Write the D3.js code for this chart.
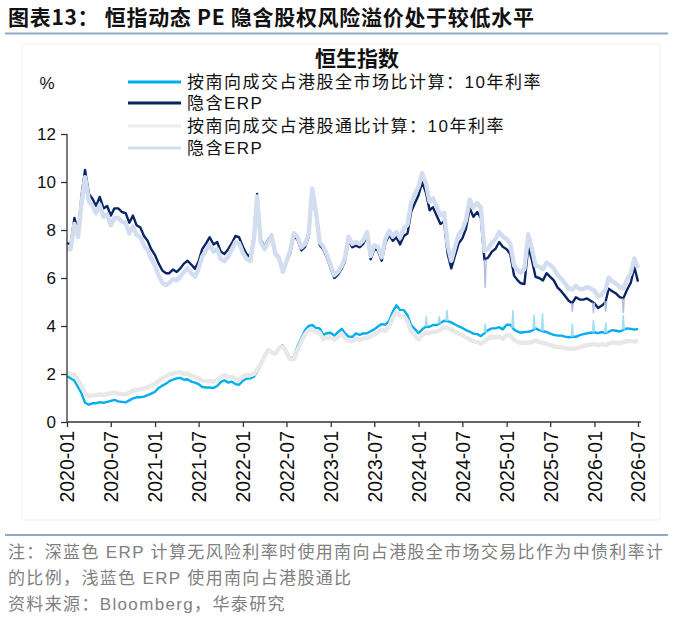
<!DOCTYPE html>
<meta charset="utf-8">
<script src="https://d3js.org/d3.v7.min.js"></script>
<style>
  body { margin: 0; background: #fff; }
  text { font-family: "Liberation Sans", "Noto Sans CJK SC", sans-serif; }
</style>
<div id="chart"></div>
<script>

// semi-monthly observations, 2020-01-01 .. 2026-07-01 (1st and 16th of each month)
var dates = d3.range(157).map(function(i) { return new Date(2020, Math.floor(i / 2), i % 2 ? 16 : 1); });

// 按南向成交占港股全市场比计算: 隐含ERP (dark navy)
var navyErp = [
  7.45, 7.4, 8.5, 7.9, 9.4, 10.5, 9.5, 9.3, 9.0, 9.38,
  8.9, 9.0, 8.6, 8.9, 8.9, 8.75, 8.7, 8.3, 8.6, 8.2,
  8.1, 7.75, 7.55, 7.2, 6.95, 6.6, 6.3, 6.2, 6.2, 6.35,
  6.25, 6.4, 6.6, 6.72, 6.55, 6.38, 6.7, 7.2, 7.44, 7.7,
  7.4, 7.5, 7.1, 7.0, 7.2, 7.45, 7.75, 7.7, 7.3, 7.0,
  6.85, 7.8, 9.5, 7.6, 7.3, 7.6, 7.8, 7.05, 6.85, 6.3,
  6.7, 7.0, 7.75, 7.6, 7.15, 7.3, 7.7, 9.55, 8.6, 7.38,
  7.2, 6.85, 6.4, 6.0, 6.15, 6.4, 6.7, 7.55, 7.28, 7.35,
  7.28, 7.42, 7.75, 6.78, 7.2, 7.15, 6.72, 7.45, 7.8, 7.55,
  7.7, 7.4, 7.75, 7.85, 8.75, 9.1, 9.45, 10.0, 9.55, 8.82,
  8.95, 8.6, 8.25, 8.35, 7.0, 6.4, 6.95, 7.45, 7.65, 8.05,
  8.9, 8.55, 8.75, 8.5, 6.75, 6.85, 7.1, 7.22, 7.5, 7.3,
  7.2, 7.0, 6.1, 5.9, 5.78, 5.75, 7.3, 6.75, 6.05, 6.0,
  5.9, 6.2, 6.05, 5.9, 5.6, 5.45, 5.25, 5.05, 4.95, 5.2,
  5.1, 5.1, 5.15, 5.05, 4.95, 4.75, 4.85, 5.0, 5.55, 5.45,
  5.35, 5.2, 5.15, 5.5, 5.8, 6.45, 5.85
];

// 按南向成交占港股通比计算: 隐含ERP (light lavender)
var lightErp = [
  7.2, 7.2, 8.25, 7.7, 9.1, 10.2, 9.2, 9.0, 8.7, 9.05,
  8.55, 8.65, 8.2, 8.5, 8.5, 8.35, 8.3, 7.85, 8.15, 7.8,
  7.7, 7.35, 7.15, 6.8, 6.5, 6.1, 5.8, 5.7, 5.8, 5.95,
  5.9, 6.05, 6.25, 6.4, 6.2, 6.05, 6.4, 6.9, 7.15, 7.4,
  7.1, 7.2, 6.8, 6.7, 6.9, 7.2, 7.5, 7.45, 7.05, 6.8,
  6.7, 7.65, 9.4, 7.5, 7.2, 7.5, 7.75, 7.0, 6.8, 6.25,
  6.7, 7.12, 7.87, 7.72, 7.27, 7.42, 7.82, 9.72, 8.72, 7.5,
  7.32, 6.97, 6.52, 6.12, 6.27, 6.52, 6.82, 7.72, 7.42, 7.5,
  7.42, 7.57, 7.92, 6.92, 7.36, 7.3, 6.87, 7.62, 7.97, 7.72,
  7.92, 7.67, 8.07, 8.22, 9.12, 9.47, 9.82, 10.37, 9.92, 9.17,
  9.32, 8.97, 8.62, 8.72, 7.37, 6.72, 7.32, 7.82, 8.02, 8.42,
  9.27, 8.92, 9.12, 8.92, 7.12, 7.22, 7.47, 7.62, 7.92, 7.72,
  7.62, 7.42, 6.52, 6.32, 6.22, 6.37, 7.82, 7.22, 6.52, 6.47,
  6.37, 6.64, 6.54, 6.4, 6.12, 5.97, 5.77, 5.57, 5.52, 5.67,
  5.54, 5.54, 5.62, 5.56, 5.47, 5.22, 5.32, 5.52, 6.02, 5.87,
  5.77, 5.62, 5.57, 5.92, 6.22, 6.82, 6.42
];

// 10年利率, 全市场比 (bright blue)
var blueRate = [
  1.92, 1.82, 1.72, 1.45, 1.2, 0.8, 0.72, 0.78, 0.78, 0.83,
  0.8, 0.84, 0.88, 0.92, 0.86, 0.84, 0.82, 0.9, 0.98, 1.03,
  1.03, 1.06, 1.12, 1.18, 1.26, 1.42, 1.52, 1.6, 1.7, 1.76,
  1.82, 1.84, 1.76, 1.78, 1.68, 1.64, 1.58, 1.46, 1.44, 1.44,
  1.42, 1.5, 1.66, 1.74, 1.64, 1.68, 1.58, 1.55, 1.72, 1.8,
  1.82, 1.89, 2.1, 2.36, 2.72, 3.0, 2.9, 2.85, 3.1, 3.2,
  2.95, 2.65, 2.7, 3.15, 3.5, 3.82, 4.0, 4.04, 3.92, 3.9,
  3.63, 3.7, 3.72, 3.6, 3.75, 3.88, 3.7, 3.56, 3.55, 3.69,
  3.63, 3.69, 3.7, 3.78, 3.86, 3.98, 4.08, 4.05, 4.22, 4.6,
  4.86, 4.67, 4.66, 4.45, 4.04, 3.88, 3.7, 3.86, 3.98, 3.97,
  4.04, 4.04, 4.12, 4.22, 4.2, 4.15, 4.06, 3.98, 3.92, 3.83,
  3.76, 3.68, 3.66, 3.58, 3.7, 3.83, 3.9, 3.9, 3.95, 3.86,
  4.05, 4.05, 3.85, 3.76, 3.72, 3.75, 3.76, 3.8, 3.9, 3.83,
  3.78, 3.75, 3.68, 3.63, 3.6, 3.6, 3.56, 3.53, 3.55, 3.55,
  3.62, 3.66, 3.69, 3.72, 3.74, 3.7, 3.75, 3.7, 3.76, 3.83,
  3.8, 3.77, 3.84, 3.9, 3.88, 3.85, 3.88
];

// 10年利率, 港股通比 (light gray)
var grayRate = [
  2.05, 2.0, 1.95, 1.75, 1.5, 1.2, 1.08, 1.1, 1.12, 1.15,
  1.12, 1.16, 1.2, 1.22, 1.18, 1.17, 1.15, 1.22, 1.3, 1.35,
  1.36, 1.4, 1.45, 1.52, 1.58, 1.72, 1.82, 1.9, 1.98, 2.02,
  2.06, 2.08, 2.0, 2.02, 1.92, 1.88, 1.82, 1.72, 1.7, 1.7,
  1.68, 1.74, 1.88, 1.95, 1.86, 1.88, 1.8, 1.76, 1.9, 1.96,
  1.95, 2.0, 2.18, 2.42, 2.75, 3.0, 2.9, 2.85, 3.08, 3.15,
  2.9, 2.62, 2.62, 3.0, 3.35, 3.65, 3.82, 3.85, 3.75, 3.72,
  3.45, 3.52, 3.52, 3.42, 3.55, 3.68, 3.5, 3.38, 3.36, 3.48,
  3.42, 3.48, 3.5, 3.56, 3.64, 3.75, 3.85, 3.8, 3.98, 4.35,
  4.6, 4.42, 4.4, 4.2, 3.78, 3.62, 3.44, 3.6, 3.72, 3.7,
  3.76, 3.76, 3.84, 3.94, 3.92, 3.86, 3.76, 3.68, 3.62, 3.52,
  3.45, 3.36, 3.34, 3.26, 3.36, 3.48, 3.54, 3.52, 3.56, 3.46,
  3.62, 3.6, 3.42, 3.34, 3.3, 3.3, 3.3, 3.33, 3.4, 3.34,
  3.3, 3.26, 3.2, 3.15, 3.12, 3.12, 3.08, 3.05, 3.06, 3.06,
  3.12, 3.16, 3.2, 3.22, 3.24, 3.2, 3.25, 3.2, 3.26, 3.32,
  3.3, 3.28, 3.33, 3.38, 3.37, 3.35, 3.4
];

// one-day spikes in the 全市场 series (holiday gaps in southbound trading)
var spikeDates = ["2024-02-02", "2024-03-27", "2024-04-28", "2024-10-04", "2025-01-27", "2025-04-25",
                  "2025-05-30", "2025-10-01", "2025-12-28", "2026-02-17", "2026-05-01"];
var spikeRate = [4.4, 4.4, 4.67, 4.1, 4.67, 4.46, 4.53, 4.1, 4.25, 4.15, 4.46];
var spikeErp  = [null, null, null, 5.57, null, null, null, 4.6, 4.53, 4.6, 4.53];

var yTicks = [0, 2, 4, 6, 8, 10, 12];

var legendLabels = ["按南向成交占港股全市场比计算：10年利率", "隐含ERP", "按南向成交占港股通比计算：10年利率", "隐含ERP"];
var colors = {
  blue: "#00aeef",
  navy: "#0b2463",
  gray: "#e8e8e8",
  lav: "#d3ddf0",
  rule: "#8fa9c9",
  note: "#808080"
};

var width = 676, height = 634;
var svg = d3.select("#chart").append("svg")
  .attr("width", width).attr("height", height)
  .style("display", "block");

svg.append("rect").attr("width", width).attr("height", height).attr("fill", "#fff");

// header
svg.append("text")
  .attr("x", 8).attr("y", 25)
  .attr("font-size", 21).attr("font-weight", "bold").attr("fill", "#111")
  .attr("letter-spacing", 0.7)
  .style("font-family", "'Noto Sans CJK SC', sans-serif")
  .text("图表13：  恒指动态 PE 隐含股权风险溢价处于较低水平");

svg.append("line").attr("x1", 5).attr("x2", 668).attr("y1", 33.5).attr("y2", 33.5)
  .attr("stroke", colors.rule).attr("stroke-width", 2);
svg.append("line").attr("x1", 5).attr("x2", 668).attr("y1", 535).attr("y2", 535)
  .attr("stroke", colors.rule).attr("stroke-width", 2);

// faint frame of the chart area
svg.append("rect").attr("x", 22).attr("y", 44).attr("width", 638).attr("height", 476)
  .attr("fill", "none").attr("stroke", "#f1f1f1");

// scales
var x = d3.scaleTime()
  .domain([new Date(2020, 0, 1), new Date(2026, 6, 1)])
  .range([67, 638]);
var y = d3.scaleLinear().domain([0, 12]).range([422, 134]);

// chart title, unit
svg.append("text").attr("x", 357).attr("y", 66).attr("text-anchor", "middle")
  .attr("font-size", 21).attr("font-weight", "bold").attr("fill", "#111")
  .style("font-family", "'Noto Sans CJK SC', sans-serif")
  .text("恒生指数");
svg.append("text").attr("x", 47).attr("y", 89).attr("text-anchor", "middle")
  .attr("font-size", 17).attr("fill", "#111").text("%");

// series, drawn in legend order (later ones on top)
var series = [
  {vals: blueRate, color: colors.blue, w: 2.4},
  {vals: navyErp, color: colors.navy, w: 2.4},
  {vals: grayRate, color: colors.gray, w: 4.4},
  {vals: lightErp, color: colors.lav, w: 4.4}
];

var line = d3.line()
  .x(function(d) { return x(d[0]); })
  .y(function(d) { return y(d[1]); });

var plot = svg.append("g");
series.forEach(function(s) {
  plot.append("path")
    .datum(dates.map(function(dt, i) { return [dt, s.vals[i]]; }))
    .attr("fill", "none")
    .attr("stroke", s.color)
    .attr("stroke-width", s.w)
    .attr("stroke-linejoin", "round")
    .attr("d", line);
});

// spikes
var parse = d3.timeParse("%Y-%m-%d");
var bis = d3.bisector(function(d) { return d; }).left;
function valueAt(vals, dt) {
  var i = bis(dates, dt);
  var d0 = dates[i - 1], d1 = dates[i];
  var t = (dt - d0) / (d1 - d0);
  return vals[i - 1] + (vals[i] - vals[i - 1]) * t;
}
spikeDates.forEach(function(s, i) {
  var dt = parse(s);
  var px = x(dt);
  var base = valueAt(blueRate, dt);
  plot.append("path")
    .attr("d", "M" + (px - 1) + "," + y(base) + "L" + px + "," + y(spikeRate[i]) + "L" + (px + 1) + "," + y(base))
    .attr("fill", "none").attr("stroke", "#9edcf4").attr("stroke-width", 1.4);
  if (spikeErp[i] != null) {
    var b2 = valueAt(navyErp, dt);
    plot.append("path")
      .attr("d", "M" + (px - 1) + "," + y(b2) + "L" + px + "," + y(spikeErp[i]) + "L" + (px + 1) + "," + y(b2))
      .attr("fill", "none").attr("stroke", "#b3bfdb").attr("stroke-width", 1.4);
  }
});

// axes
var yAxis = svg.append("g")
  .attr("transform", "translate(67,0)")
  .call(d3.axisLeft(y).tickValues(yTicks).tickSize(6).tickPadding(5).tickFormat(d3.format("d")));
yAxis.selectAll("text").attr("font-size", 17).attr("fill", "#111");

var xAxis = svg.append("g")
  .attr("transform", "translate(0,422)")
  .call(d3.axisBottom(x).ticks(d3.timeMonth.every(6)).tickSize(5).tickFormat(d3.timeFormat("%Y-%m")));
xAxis.selectAll("text")
  .attr("font-size", 19.5).attr("fill", "#111")
  .attr("transform", "rotate(-90)")
  .attr("text-anchor", "end")
  .attr("x", -9).attr("y", 0).attr("dy", "0.35em");

svg.selectAll(".domain, .tick line").attr("stroke", "#333").attr("stroke-width", 1.3);
yAxis.select(".domain").attr("d", "M0,134V422");
xAxis.select(".domain").attr("d", "M67,0H641");

// legend
var legendColors = [colors.blue, colors.navy, "#ececec", colors.lav];
var legendY = [82, 103, 126, 148];
var lg = svg.append("g");
legendLabels.forEach(function(lab, i) {
  lg.append("line").attr("x1", 128).attr("x2", 181).attr("y1", legendY[i]).attr("y2", legendY[i])
    .attr("stroke", legendColors[i]).attr("stroke-width", 3);
  lg.append("text").attr("x", 187).attr("y", legendY[i]).attr("dy", "0.36em")
    .attr("font-size", 17).attr("fill", "#111").attr("letter-spacing", 1.5)
    .text(lab);
});

// notes
var notes = [
  "注：深蓝色 ERP 计算无风险利率时使用南向占港股全市场交易比作为中债利率计",
  "的比例，浅蓝色 ERP 使用南向占港股通比",
  "资料来源：Bloomberg，华泰研究"
];
var noteY = [552, 578, 604];
notes.forEach(function(t, i) {
  svg.append("text").attr("x", 8).attr("y", noteY[i]).attr("dy", "0.36em")
    .attr("font-size", 17).attr("fill", colors.note).attr("letter-spacing", 1.35)
    .text(t);
});

</script>
